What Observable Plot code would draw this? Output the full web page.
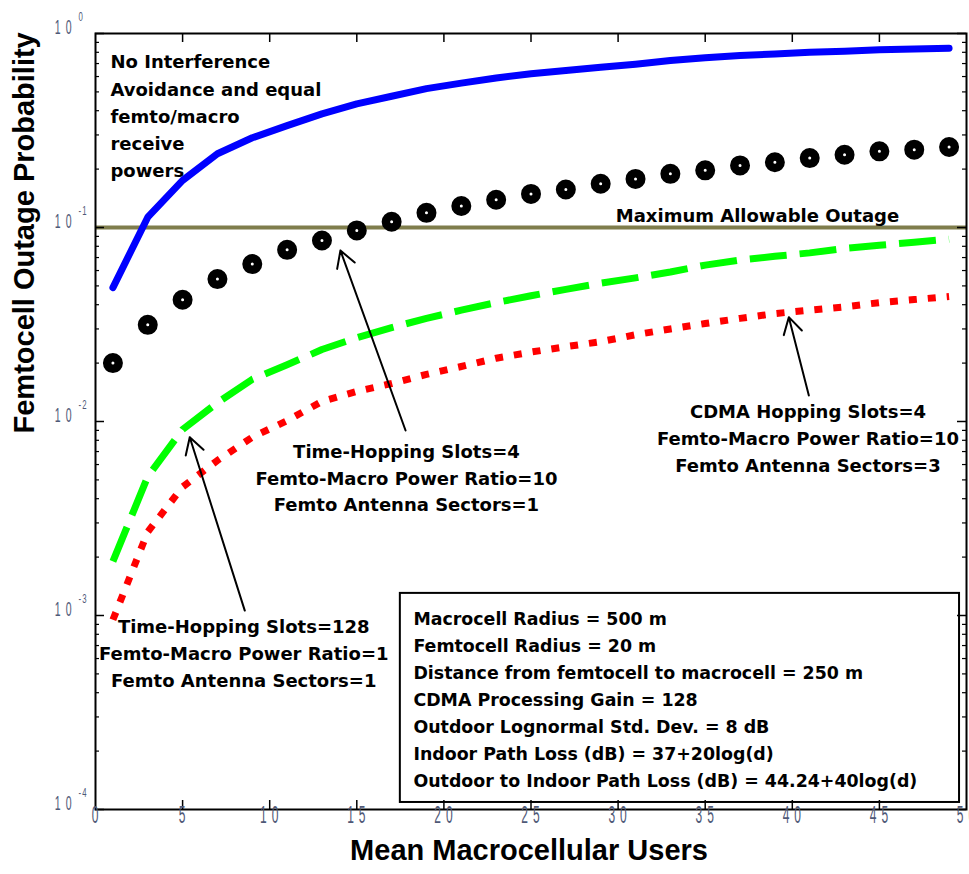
<!DOCTYPE html>
<html><head><meta charset="utf-8">
<script src="https://cdn.jsdelivr.net/npm/d3@7"></script>
<script src="https://cdn.jsdelivr.net/npm/@observablehq/plot@0.6"></script>
<style>
html,body{margin:0;padding:0;background:#fff;}
#chart svg{display:block;}
</style></head>
<body><div id="chart"></div>
<script>
// ---- data ----
const users = [1,3,5,7,9,11,13,15,17,19,21,23,25,27,29,31,33,35,37,39,41,43,45,47,49];
// No interference avoidance, equal femto/macro receive powers (blue solid)
const noAvoidance = [0.049,0.113,0.175,0.24,0.29,0.335,0.385,0.434,0.475,0.52,0.555,0.59,0.62,0.645,0.67,0.695,0.725,0.75,0.77,0.785,0.80,0.81,0.824,0.832,0.84];
// Time-hopping slots=4, ratio=10, sectors=1 (black circles)
const th4 = [0.020,0.0315,0.0424,0.0542,0.0648,0.0767,0.0857,0.0966,0.107,0.119,0.129,0.139,0.149,0.157,0.168,0.178,0.189,0.197,0.209,0.217,0.228,0.237,0.247,0.252,0.26];
// Time-hopping slots=128, ratio=1, sectors=1 (green dashed)
const th128 = [0.0019,0.0052,0.0091,0.0125,0.0165,0.0196,0.0235,0.027,0.0305,0.034,0.0375,0.041,0.0445,0.048,0.0516,0.055,0.059,0.064,0.068,0.071,0.074,0.078,0.081,0.084,0.087];
// CDMA hopping slots=4, ratio=10, sectors=3 (red dotted)
const cdma4 = [0.00095,0.0027,0.0046,0.0063,0.0083,0.0101,0.0127,0.0143,0.0157,0.0175,0.0192,0.0212,0.0228,0.0243,0.0258,0.028,0.030,0.032,0.034,0.036,0.0375,0.039,0.041,0.0425,0.0441];
const maxOutage = [0.1];

const xTicks = [0,5,10,15,20,25,30,35,40,45,50];
const yTicks = [1e-4,1e-3,1e-2,1e-1,1];
const yExponents = ["-4","-3","-2","-1","0"];
const yMinorTicks = [];
for (const d of [1e-4,1e-3,1e-2,1e-1]) for (const m of [2,3,4,5,6,7,8,9]) yMinorTicks.push(d*m);

const xLabel = "Mean Macrocellular Users";
const yLabel = "Femtocell Outage Probability";

// annotations (data coordinates)
const notesStart = [
  {text: "No Interference\nAvoidance and equal\nfemto/macro\nreceive\npowers", x: 0.86, y: 0.384}
];
const notesMiddle = [
  {text: "Maximum Allowable Outage", x: 38.0, y: 0.1186},
  {text: "Time-Hopping Slots=4\nFemto-Macro Power Ratio=10\nFemto Antenna Sectors=1", x: 17.85, y: 0.00524},
  {text: "Time-Hopping Slots=128\nFemto-Macro Power Ratio=1\nFemto Antenna Sectors=1", x: 8.51, y: 6.52e-4},
  {text: "CDMA Hopping Slots=4\nFemto-Macro Power Ratio=10\nFemto Antenna Sectors=3", x: 40.9, y: 0.00837}
];
const arrows = [
  {x1: 17.8, y1: 0.00899, x2: 14.06, y2: 0.0761},
  {x1: 8.57, y1: 0.00106, x2: 5.41, y2: 0.0083},
  {x1: 40.95, y1: 0.0136, x2: 39.8, y2: 0.0345}
];
const paramLines = [
  "Macrocell Radius = 500 m",
  "Femtocell Radius = 20 m",
  "Distance from femtocell to macrocell = 250 m",
  "CDMA Processing Gain = 128",
  "Outdoor Lognormal Std. Dev. = 8 dB",
  "Indoor Path Loss (dB) = 37+20log(d)",
  "Outdoor to Indoor Path Loss (dB) = 44.24+40log(d)"
];
const paramBox = [{x1: 17.5, x2: 49.6, y1: 1.087e-4, y2: 1.30e-3}];
const paramText = [{text: paramLines.join("\n"), x: 18.25, y: 3.79e-4}];

// ---- chart ----
const W = 969, H = 874, mt = 33, mb = 65, ml = 95, mr = 3;
const iw = W - ml - mr, ih = H - mt - mb;
const tickColor = "#4f5977";
const expColor = "#4f5978";
const annFont = "DejaVu Sans, Verdana, sans-serif";
const rows = users.map((u, i) => ({u, blue: noAvoidance[i], circ: th4[i], green: th128[i], red: cdma4[i]}));

const plot = Plot.plot({
  width: W, height: H,
  marginTop: mt, marginBottom: mb, marginLeft: ml, marginRight: mr,
  x: {domain: [0, 50], axis: null},
  y: {type: "log", domain: [1e-4, 1], axis: null},
  marks: [
    Plot.ruleY(maxOutage, {stroke: "#7f7d4c", strokeWidth: 4}),
    Plot.line(rows, {x: "u", y: "blue", stroke: "#0000ff", strokeWidth: 7, strokeLinejoin: "round"}),
    Plot.line(rows, {x: "u", y: "green", stroke: "#00ff00", strokeWidth: 7, strokeDasharray: "37,13", strokeLinecap: "butt"}),
    Plot.line(rows, {x: "u", y: "red", stroke: "#ff0000", strokeWidth: 7, strokeDasharray: "8,11", strokeLinecap: "butt"}),
    Plot.dot(rows, {x: "u", y: "circ", r: 5.75, stroke: "black", strokeWidth: 8.5, fill: "white"}),
    Plot.arrow(arrows, {x1: "x1", y1: "y1", x2: "x2", y2: "y2", stroke: "black", strokeWidth: 2, headLength: 14}),
    Plot.text(notesStart, {x: "x", y: "y", text: "text", textAnchor: "start", lineHeight: 1.51, fontSize: 18, fontWeight: "bold", fontFamily: annFont, fill: "black"}),
    Plot.text(notesMiddle, {x: "x", y: "y", text: "text", textAnchor: "middle", lineHeight: 1.49, fontSize: 18, fontWeight: "bold", fontFamily: annFont, fill: "black"}),
    Plot.rect(paramBox, {x1: "x1", x2: "x2", y1: "y1", y2: "y2", fill: "white", stroke: "black", strokeWidth: 2}),
    Plot.text(paramText, {x: "x", y: "y", text: "text", textAnchor: "start", lineHeight: 1.56, fontSize: 17.4, fontWeight: "bold", fontFamily: annFont, fill: "black"}),
    // inward ticks
    Plot.tickX(xTicks.slice(1, -1), {x: d => d, stroke: "black", strokeWidth: 1.5, insetTop: ih - 9}),
    Plot.tickX(xTicks.slice(1, -1), {x: d => d, stroke: "black", strokeWidth: 1.5, insetBottom: ih - 9}),
    Plot.tickY(yTicks, {y: d => d, stroke: "black", strokeWidth: 1.5, insetRight: iw - 9}),
    Plot.tickY(yTicks, {y: d => d, stroke: "black", strokeWidth: 1.5, insetLeft: iw - 9}),
    Plot.tickY(yMinorTicks, {y: d => d, stroke: "black", strokeWidth: 1.2, insetRight: iw - 4}),
    Plot.tickY(yMinorTicks, {y: d => d, stroke: "black", strokeWidth: 1.2, insetLeft: iw - 4}),
    Plot.frame({stroke: "black", strokeWidth: 2}),
    // tick labels
    Plot.text(xTicks, {x: d => d, text: d => String(d), frameAnchor: "bottom", dy: 13, dx: 2, fontSize: 24, fontFamily: "Liberation Sans, Arial, sans-serif", fill: tickColor}),
    Plot.text(yTicks, {y: d => d, text: () => "10", frameAnchor: "left", dx: -19, dy: -6, textAnchor: "end", fontSize: 21, fontFamily: "Liberation Sans, Arial, sans-serif", fill: tickColor}),
    Plot.text(yTicks, {y: d => d, text: (d, i) => yExponents[i], frameAnchor: "left", dx: -17, dy: -17, textAnchor: "start", fontSize: 13, fontFamily: "Liberation Sans, Arial, sans-serif", fill: expColor}),
    // axis titles
    Plot.text([xLabel], {text: d => d, frameAnchor: "bottom", dy: 50, dx: -2, fontSize: 29, fontWeight: "bold", fontFamily: "Liberation Sans, Arial, sans-serif", fill: "black"}),
    Plot.text([yLabel], {text: d => d, frameAnchor: "left", dx: -71, dy: 12, rotate: -90, fontSize: 29, fontWeight: "bold", fontFamily: "Liberation Sans, Arial, sans-serif", fill: "black"})
  ]
});

document.getElementById("chart").appendChild(plot);

// condensed look for tick labels
function squeeze(sel, sx, spacing) {
  plot.querySelectorAll(sel).forEach(t => {
    t.style.letterSpacing = spacing + "px";
    const tr = t.getAttribute("transform");
    if (tr) t.setAttribute("transform", tr + ` scale(${sx},1)`);
    else {
      const x = +t.getAttribute("x") || 0, y = +t.getAttribute("y") || 0;
      t.removeAttribute("x"); t.removeAttribute("y");
      t.setAttribute("transform", `translate(${x},${y}) scale(${sx},1)`);
    }
  });
}
squeeze(`g[fill="${tickColor}"] text`, 0.5, 10);
squeeze(`g[fill="${expColor}"] text`, 0.6, 2);
</script>
</body></html>
